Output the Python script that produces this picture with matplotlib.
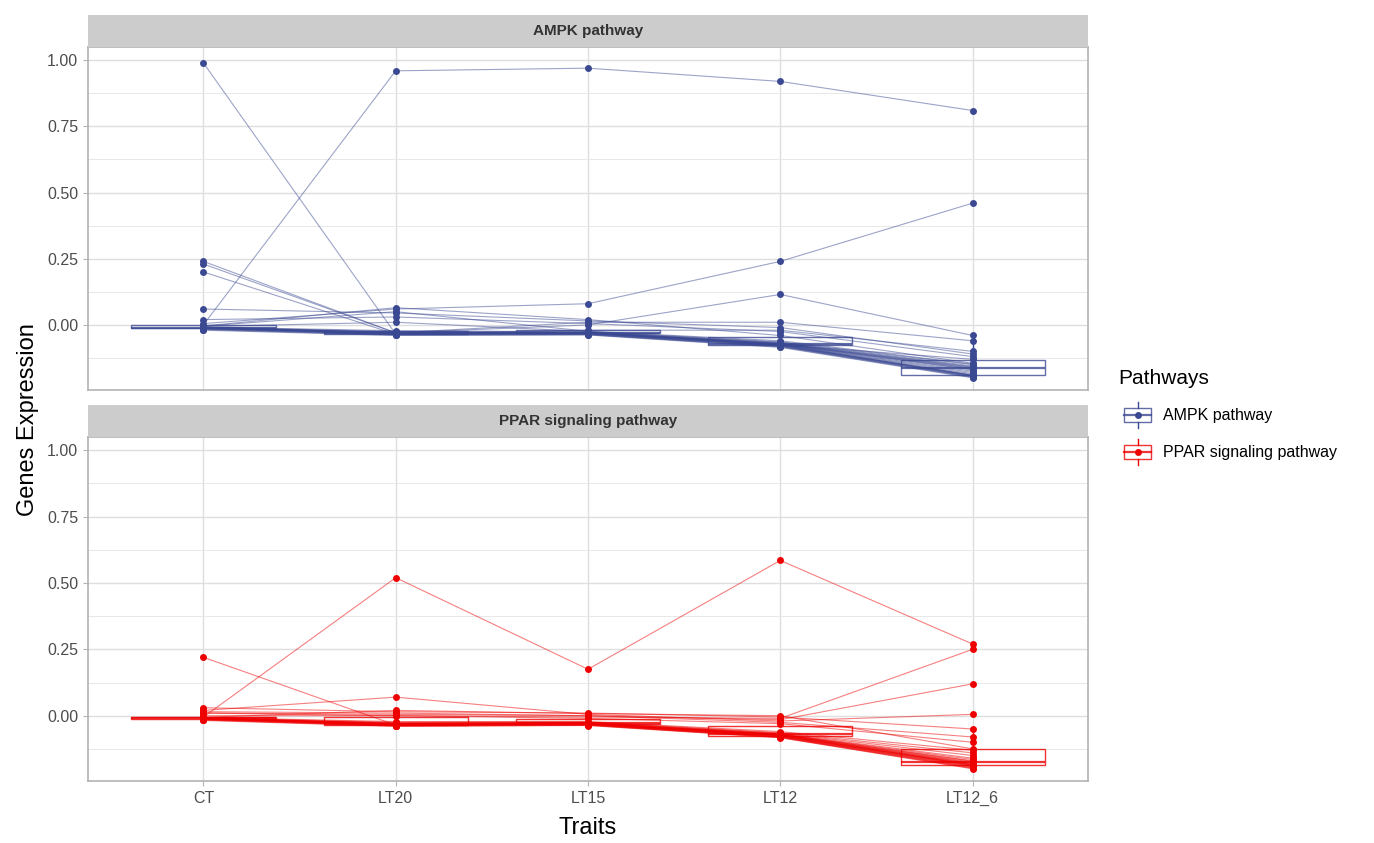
import matplotlib
matplotlib.use("Agg")
import matplotlib.pyplot as plt
from matplotlib.patches import Rectangle
from matplotlib.lines import Line2D
import numpy as np

plt.rcParams['font.family'] = ['Liberation Sans', 'DejaVu Sans']

traits = ['CT', 'LT20', 'LT15', 'LT12', 'LT12_6']
pathways = ['AMPK pathway', 'PPAR signaling pathway']
colors = ['#3B4992', '#EE0000']

# AMPK pathway: one entry per gene, one list per trait
ampk_ct = [0.99, 0.00, 0.005, 0.24, 0.23, 0.20, 0.06, 0.02,
           -0.004, -0.005, -0.006, -0.008, -0.009, -0.01, -0.01, -0.01, -0.01, -0.01, -0.01,
           -0.011, -0.011, -0.012, -0.012, -0.013, -0.013, -0.014, -0.015, -0.016, -0.018, -0.02]
ampk_lt20 = [-0.035, 0.96, 0.06, -0.03, -0.03, -0.035, 0.045, 0.03,
             0.065, 0.05, 0.01, -0.022, -0.025, -0.027, -0.028, -0.029, -0.03, -0.03, -0.031,
             -0.031, -0.032, -0.032, -0.033, -0.033, -0.034, -0.035, -0.036, -0.037, -0.038, -0.04]
ampk_lt15 = [-0.03, 0.97, 0.08, 0.0, 0.01, -0.02, 0.015, 0.005,
             0.02, -0.024, -0.025, -0.026, -0.027, -0.028, -0.028, -0.029, -0.029, -0.03, -0.03,
             -0.03, -0.031, -0.031, -0.032, -0.032, -0.033, -0.034, -0.035, -0.036, -0.037, -0.038]
ampk_lt12 = [-0.075, 0.92, 0.24, 0.115, 0.01, -0.02, -0.01, -0.025,
             -0.04, -0.06, -0.064, -0.066, -0.068, -0.07, -0.07, -0.071, -0.072, -0.072, -0.073,
             -0.074, -0.074, -0.075, -0.076, -0.077, -0.078, -0.079, -0.08, -0.081, -0.083, -0.085]
ampk_lt12_6 = [-0.13, 0.81, 0.46, -0.04, -0.06, -0.10, -0.11, -0.12,
               -0.145, -0.148, -0.15, -0.155, -0.158, -0.16, -0.163, -0.165, -0.168, -0.17, -0.175,
               -0.18, -0.185, -0.19, -0.19, -0.19, -0.192, -0.193, -0.195, -0.196, -0.198, -0.2]

# PPAR signaling pathway
ppar_ct = [0.22, -0.005, 0.0, 0.01, 0.02, 0.03, 0.015, 0.01,
           -0.006, -0.007, -0.008, -0.009, -0.01, -0.01, -0.01, -0.01, -0.01, -0.01, -0.01,
           -0.01, -0.01, -0.01, -0.011, -0.012, -0.012, -0.013, -0.014, -0.015, -0.016, -0.018]
ppar_lt20 = [-0.035, 0.52, 0.0, 0.005, 0.07, 0.015, 0.01, 0.0,
             0.02, -0.022, -0.025, -0.027, -0.028, -0.029, -0.03, -0.03, -0.031, -0.031, -0.032,
             -0.032, -0.033, -0.033, -0.034, -0.035, -0.035, -0.036, -0.037, -0.038, -0.039, -0.04]
ppar_lt15 = [-0.03, 0.175, -0.005, 0.0, 0.005, 0.01, 0.0, -0.01,
             0.008, -0.022, -0.024, -0.025, -0.026, -0.027, -0.028, -0.028, -0.029, -0.029, -0.03,
             -0.03, -0.031, -0.031, -0.032, -0.032, -0.033, -0.033, -0.034, -0.035, -0.036, -0.037]
ppar_lt12 = [-0.07, 0.585, -0.01, -0.015, -0.02, -0.005, -0.025, -0.03,
             0.0, -0.06, -0.064, -0.066, -0.068, -0.069, -0.07, -0.071, -0.072, -0.072, -0.073,
             -0.074, -0.074, -0.075, -0.076, -0.077, -0.078, -0.079, -0.08, -0.081, -0.082, -0.083]
ppar_lt12_6 = [-0.17, 0.27, 0.25, 0.12, 0.005, -0.05, -0.08, -0.10,
               -0.125, -0.13, -0.14, -0.15, -0.16, -0.165, -0.172, -0.175, -0.178, -0.18, -0.182,
               -0.184, -0.185, -0.186, -0.187, -0.188, -0.19, -0.192, -0.194, -0.196, -0.198, -0.2]

data = [
    np.array([ampk_ct, ampk_lt20, ampk_lt15, ampk_lt12, ampk_lt12_6]),
    np.array([ppar_ct, ppar_lt20, ppar_lt15, ppar_lt12, ppar_lt12_6]),
]

W, H = 1374, 843
fig = plt.figure(figsize=(W / 100, H / 100), dpi=100)

def fx(px):
    return px / W

def fy(py):
    return 1 - py / H

left, right = 88, 1088
panels = [(15, 47, 390), (405, 437, 781)]  # strip top, panel top, panel bottom
x = np.arange(1, 6)

for i, (st, pt, pb) in enumerate(panels):
    col = colors[i]
    vals = data[i]
    ax = fig.add_axes([fx(left), fy(pb), fx(right - left), (pb - pt) / H])

    # boxplots
    bp = ax.boxplot([vals[j] for j in range(5)], positions=x, widths=0.75, showfliers=False,
                    patch_artist=True, whis=1.5, manage_ticks=False, zorder=2)
    for b in bp['boxes']:
        b.set_facecolor('none')
        b.set_edgecolor(col)
        b.set_alpha(0.8)
        b.set_linewidth(1.0)
    for m in bp['medians']:
        m.set_color(col)
        m.set_linewidth(1.6)
        m.set_alpha(0.8)
    for w in bp['whiskers']:
        w.set_color(col)
        w.set_linewidth(1.0)
    for c in bp['caps']:
        c.set_visible(False)

    # one line per gene
    for g in range(vals.shape[1]):
        ax.plot(x, vals[:, g], color=col, lw=0.8, alpha=0.5, zorder=3)
        ax.plot(x, vals[:, g], 'o', color=col, ms=5, mec='none', zorder=4)

    ax.set_xlim(0.4, 5.6)
    ax.set_ylim(-0.246, 1.05)
    ax.set_yticks([0, 0.25, 0.5, 0.75, 1.0])
    ax.set_yticklabels(['0.00', '0.25', '0.50', '0.75', '1.00'])
    ax.set_yticks([-0.125, 0.125, 0.375, 0.625, 0.875], minor=True)
    ax.set_xticks(x)
    ax.set_xticklabels(traits)
    ax.grid(True, which='major', color='#DEDEDE', lw=1.0)
    ax.grid(True, which='minor', axis='y', color='#E8E8E8', lw=0.7)
    ax.set_axisbelow(True)
    for s in ax.spines.values():
        s.set_color('#B3B3B3')
        s.set_linewidth(1.2)
    ax.tick_params(axis='both', colors='#B3B3B3', labelcolor='#4D4D4D', labelsize=11.5,
                   length=3.5, width=0.8)
    ax.tick_params(axis='y', which='minor', length=0)
    if i == 0:
        ax.tick_params(axis='x', length=0, labelbottom=False)

    # strip
    sax = fig.add_axes([fx(left), fy(pt), fx(right - left), (pt - st) / H])
    sax.set_facecolor('#CCCCCC')
    sax.set_xticks([])
    sax.set_yticks([])
    for s in sax.spines.values():
        s.set_visible(False)
    sax.text(0.5, 0.5, pathways[i], ha='center', va='center', fontsize=11,
             fontweight='bold', color='#333333', transform=sax.transAxes)

fig.text(fx(28), fy(420), 'Genes Expression', rotation=90, ha='center', va='center',
         fontsize=17)
fig.text(fx(588), fy(828), 'Traits', ha='center', va='center', fontsize=17)

# legend
fig.text(fx(1118), fy(378), 'Pathways', ha='left', va='center', fontsize=15)
lax = fig.add_axes([fx(1118), fy(470), fx(40), (470 - 398) / H])
lax.set_xlim(0, 40)
lax.set_ylim(470, 398)
lax.axis('off')
for k, (yc, col) in enumerate([(415, colors[0]), (452, colors[1])]):
    lax.add_patch(Rectangle((6, yc - 7), 27, 14, fill=False, ec=col, lw=1.0, alpha=0.8))
    lax.add_line(Line2D([19.5, 19.5], [yc - 13, yc - 7], color=col, lw=1.0))
    lax.add_line(Line2D([19.5, 19.5], [yc + 7, yc + 13], color=col, lw=1.0))
    lax.add_line(Line2D([6, 33], [yc, yc], color=col, lw=1.6, alpha=0.8))
    lax.plot([19.5], [yc], 'o', color=col, ms=5, mec='none')
    fig.text(fx(1163), fy(yc), pathways[k], ha='left', va='center', fontsize=11.5)

fig.savefig('out.png', dpi=100)
